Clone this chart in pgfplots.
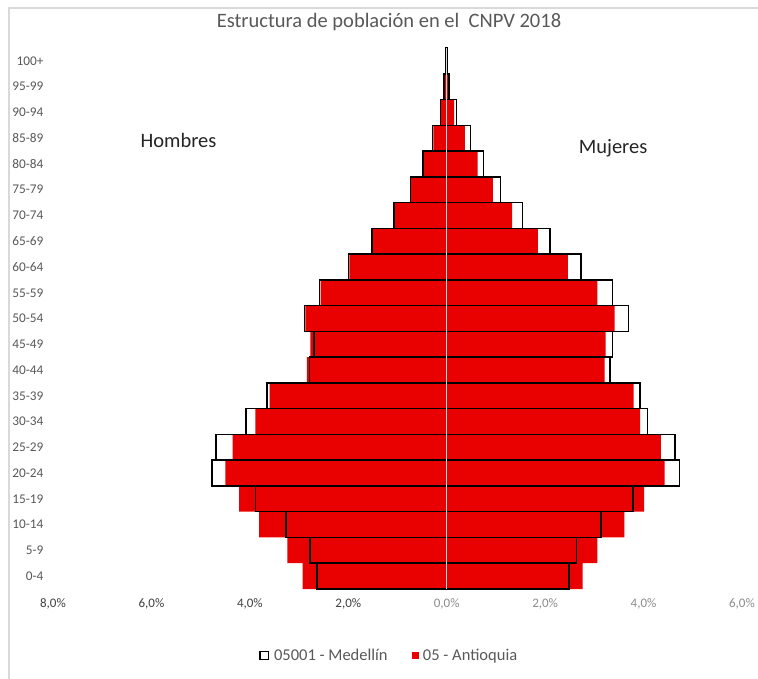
\documentclass[border=0pt]{standalone}
\usepackage{pgfplots}
\usepackage{pgfplotstable}
\pgfplotsset{compat=1.18}
\usepackage{fontspec}
\setmainfont{Carlito}
\definecolor{txt}{HTML}{595959}
\definecolor{dk}{HTML}{404040}
\definecolor{lt}{HTML}{8C8C8C}
\definecolor{bred}{RGB}{233,0,0}
\definecolor{frame}{HTML}{D9D9D9}

\pgfplotstableread{
k h m
0 2.64 2.48
1 2.78 2.64
2 3.27 3.13
3 3.89 3.78
4 4.77 4.73
5 4.69 4.64
6 4.08 4.08
7 3.65 3.93
8 2.79 3.32
9 2.70 3.37
10 2.89 3.69
11 2.58 3.37
12 2.00 2.73
13 1.52 2.10
14 1.07 1.54
15 0.74 1.09
16 0.48 0.75
17 0.29 0.48
18 0.13 0.20
19 0.06 0.05
20 0.02 0.02
}\medellin

\pgfplotstableread{
k h m
0 2.93 2.76
1 3.24 3.06
2 3.81 3.61
3 4.22 4.01
4 4.50 4.43
5 4.35 4.35
6 3.89 3.93
7 3.60 3.80
8 2.84 3.21
9 2.77 3.23
10 2.87 3.41
11 2.56 3.06
12 1.98 2.46
13 1.50 1.85
14 1.06 1.33
15 0.73 0.94
16 0.47 0.63
17 0.27 0.37
18 0.12 0.15
19 0.04 0.03
20 0.01 0.01
}\antioquia

\begin{document}
\begin{tikzpicture}
\useasboundingbox (0bp,0bp) rectangle (758bp,679bp);
\fill[white] (0bp,0bp) rectangle (758bp,679bp);
\draw[frame, line width=1.5bp] (9bp,0bp) -- (9bp,671bp) -- (758bp,671bp);
\node[font=\fontsize{20.5bp}{24bp}\selectfont, text=txt] at (389bp,657bp) {Estructura de población en el\ \ CNPV 2018};
\begin{axis}[
  at={(53bp,90bp)}, anchor=south west,
  scale only axis, width=689bp, height=541bp,
  xmin=-8, xmax=6, ymin=-0.5, ymax=20.5,
  axis line style={draw=none},
  major tick length=0pt,
  xtick={-8,-6,-4,-2,0,2,4,6},
  xticklabels={{\textcolor{dk}{8,0\%}},{\textcolor{dk}{6,0\%}},{\textcolor{dk}{4,0\%}},{\textcolor{dk}{2,0\%}},{\textcolor{lt}{0,0\%}},{\textcolor{lt}{2,0\%}},{\textcolor{lt}{4,0\%}},{\textcolor{lt}{6,0\%}}},
  xticklabel style={font=\fontsize{13bp}{15bp}\selectfont, yshift=-6bp},
  ytick={0,...,20},
  yticklabels={0-4,5-9,10-14,15-19,20-24,25-29,30-34,35-39,40-44,45-49,50-54,55-59,60-64,65-69,70-74,75-79,80-84,85-89,90-94,95-99,100+},
  yticklabel style={font=\fontsize{13.3bp}{15bp}\selectfont, text=txt, xshift=-6bp},
  /pgf/number format/assume math mode=true,
  legend style={at={(0.488,-0.123)}, anchor=center, draw=none, fill=none,
    legend columns=2, font=\fontsize{16.5bp}{19bp}\selectfont, text=txt,
    /tikz/every odd column/.append style={column sep=3bp},
    /tikz/every even column/.append style={column sep=22bp}},
  clip=false,
]
% Medellín fill (behind)
\addplot[forget plot, xbar, bar width=1, bar shift=0pt, fill=white, draw=none] table[x expr=-\thisrow{h}, y=k]{\medellin};
\addplot[forget plot, xbar, bar width=1, bar shift=0pt, fill=white, draw=none] table[x=m, y=k]{\medellin};
% Antioquia
\addplot[forget plot, xbar, bar width=1, bar shift=0pt, fill=bred, draw=none] table[x expr=-\thisrow{h}, y=k]{\antioquia};
\addplot[forget plot, xbar, bar width=1, bar shift=0pt, fill=bred, draw=none] table[x=m, y=k]{\antioquia};
% Medellín outline (front)
\addplot[forget plot, xbar, bar width=1, bar shift=0pt, fill=none, draw=black, line width=1.5bp] table[x expr=-\thisrow{h}, y=k]{\medellin};
\addplot[forget plot, xbar, bar width=1, bar shift=0pt, fill=none, draw=black, line width=1.5bp] table[x=m, y=k]{\medellin};
% zero line
\addplot[forget plot, draw=frame, line width=1.5bp] coordinates {(0,-0.5) (0,20.5)};
\addlegendimage{legend image code/.code={\draw[black, line width=1.3bp, fill=white] (0bp,-4.2bp) rectangle (8.5bp,4.2bp);}}
\addlegendentry{05001 - Medellín}
\addlegendimage{legend image code/.code={\fill[bred] (2.5bp,-3bp) rectangle (8.5bp,3bp);}}
\addlegendentry{05 - Antioquia}
\node[font=\fontsize{20.5bp}{24bp}\selectfont, text=black!85] at (axis cs:-5.45,16.9) {Hombres};
\node[font=\fontsize{20.5bp}{24bp}\selectfont, text=black!85] at (axis cs:3.38,16.6) {Mujeres};
\end{axis}
\end{tikzpicture}
\end{document}
